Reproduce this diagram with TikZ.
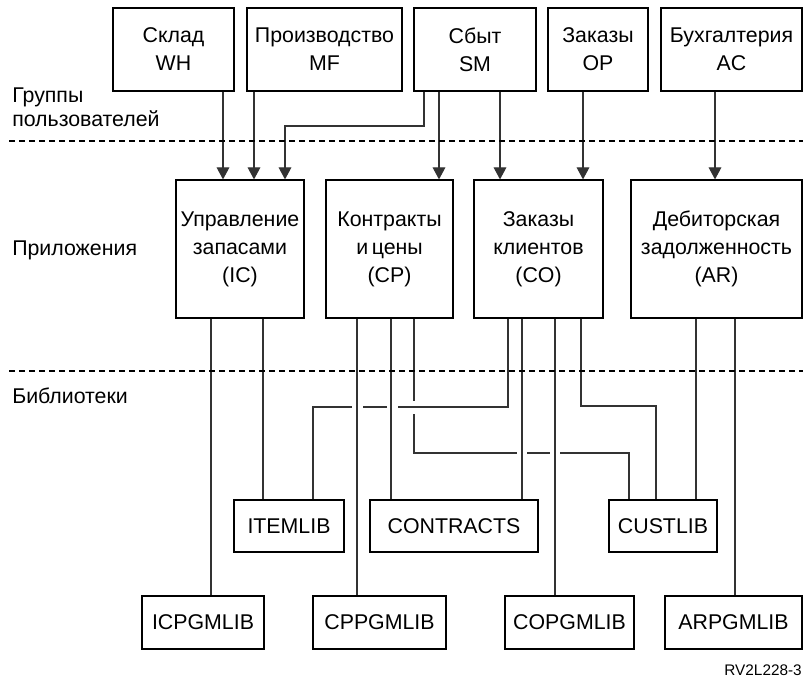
\documentclass[tikz,border=0pt]{standalone}
\usepackage{fontspec}
\setmainfont{Liberation Sans}
\usetikzlibrary{arrows.meta}
\newcommand\pxu{0.75pt}
\begin{document}
\begin{tikzpicture}[x=0.75pt,y=-0.75pt,
  box/.style={draw, line width=0.9pt, inner sep=0pt, align=center, font=\fontsize{16}{21}\selectfont},
  conn/.style={line width=0.8pt, draw=black!80},
  arr/.style={conn, -{Triangle[length=9pt,width=9.5pt]}},
  sep/.style={line width=1.1pt, dash pattern=on 4.8pt off 2.7pt},
  lbl/.style={inner sep=0pt, align=left, font=\fontsize{16}{18}\selectfont}]
\useasboundingbox (0,0) rectangle (803,677);

% user groups
\node[box, minimum width=121*\pxu, minimum height=83*\pxu] (wh) at (173.5,49.5) {Склад\\WH};
\node[box, minimum width=155*\pxu, minimum height=83*\pxu] (mf) at (324.5,49.5) {Производство\\MF};
\node[box, minimum width=122*\pxu, minimum height=83*\pxu] (sm) at (475,49.5) {Сбыт\\SM};
\node[box, minimum width=100*\pxu, minimum height=83*\pxu] (op) at (598,49.5) {Заказы\\OP};
\node[box, minimum width=141*\pxu, minimum height=83*\pxu] (ac) at (731.5,49.5) {Бухгалтерия\\AC};

% applications
\node[box, minimum width=128*\pxu, minimum height=138*\pxu] (ic) at (240,249) {Управление\\запасами\\(IC)};
\node[box, minimum width=127*\pxu, minimum height=138*\pxu] (cp) at (389.5,249) {Контракты\\и\,цены\\(CP)};
\node[box, minimum width=129*\pxu, minimum height=138*\pxu] (co) at (538.5,249) {Заказы\\клиентов\\(CO)};
\node[box, minimum width=171*\pxu, minimum height=138*\pxu] (ar) at (716.5,249) {Дебиторская\\задолженность\\(AR)};

% libraries
\node[box, minimum width=110*\pxu, minimum height=52*\pxu] (itemlib) at (289,526) {ITEMLIB};
\node[box, minimum width=168*\pxu, minimum height=52*\pxu] (contracts) at (454,526) {CONTRACTS};
\node[box, minimum width=108*\pxu, minimum height=52*\pxu] (custlib) at (663,526) {CUSTLIB};
\node[box, minimum width=122*\pxu, minimum height=53*\pxu] (icpgm) at (203,622.5) {ICPGMLIB};
\node[box, minimum width=133*\pxu, minimum height=53*\pxu] (cppgm) at (379.5,622.5) {CPPGMLIB};
\node[box, minimum width=129*\pxu, minimum height=53*\pxu] (copgm) at (569.5,622.5) {COPGMLIB};
\node[box, minimum width=137*\pxu, minimum height=53*\pxu] (arpgm) at (733.5,622.5) {ARPGMLIB};

% side labels
\node[lbl, anchor=west] (lgroups) at (12,107) {Группы\\пользователей};
\node[lbl, anchor=base west] (lapps) at (12,256) {Приложения};
\node[lbl, anchor=base west] (llibs) at (12,403) {Библиотеки};
\node[inner sep=0pt, anchor=base east, font=\fontsize{11.5}{13}\selectfont] (fig) at (802,675) {RV2L228-3};

% arrows from user groups to applications
\draw[arr] (wh.south -| 223,0) -- (ic.north -| 223,0);
\draw[arr] (mf.south -| 254,0) -- (ic.north -| 254,0);
\draw[arr] (sm.south -| 424,0) -- (424,126) -- (285,126) -- (ic.north -| 285,0);
\draw[arr] (sm.south -| 439,0) -- (cp.north -| 439,0);
\draw[arr] (sm.south -| 500,0) -- (co.north -| 500,0);
\draw[arr] (op.south -| 583,0) -- (co.north -| 583,0);
\draw[arr] (ac.south -| 715,0) -- (ar.north -| 715,0);

% applications to libraries
\draw[conn] (ic.south -| 211,0) -- (icpgm.north -| 211,0);
\draw[conn] (ic.south -| 263,0) -- (itemlib.north -| 263,0);
\draw[conn] (cp.south -| 357,0) -- (cppgm.north -| 357,0);
\draw[conn] (cp.south -| 391,0) -- (contracts.north -| 391,0);
\draw[conn] (co.south -| 522,0) -- (contracts.north -| 522,0);
\draw[conn] (co.south -| 555,0) -- (copgm.north -| 555,0);
\draw[conn] (ar.south -| 696,0) -- (custlib.north -| 696,0);
\draw[conn] (ar.south -| 735,0) -- (arpgm.north -| 735,0);
\draw[conn] (co.south -| 581,0) -- (581,406) -- (656,406) -- (custlib.north -| 656,0);

% CP -> CUSTLIB with breaks
\coordinate (a1) at (414,401);
\coordinate (a2) at (414,414);
\coordinate (a3) at (517,453);
\coordinate (a4) at (527,453);
\coordinate (a5) at (550,453);
\coordinate (a6) at (560,453);
\draw[conn] (cp.south -| 414,0) -- (a1);
\draw[conn] (a2) -- (414,453) -- (a3);
\draw[conn] (a4) -- (a5);
\draw[conn] (a6) -- (629,453) -- (custlib.north -| 629,0);

% CO -> ITEMLIB with breaks
\coordinate (b1) at (398,407);
\coordinate (b2) at (387,407);
\coordinate (b3) at (363,407);
\coordinate (b4) at (352,407);
\draw[conn] (co.south -| 508,0) -- (508,407) -- (b1);
\draw[conn] (b2) -- (b3);
\draw[conn] (b4) -- (313,407) -- (itemlib.north -| 313,0);

% separators
\coordinate (s1w) at (9,141);
\coordinate (s1e) at (803,141);
\coordinate (s2w) at (9,371);
\coordinate (s2e) at (803,371);
\draw[sep] (s1w) -- (s1e);
\draw[sep] (s2w) -- (s2e);
\end{tikzpicture}
\end{document}
